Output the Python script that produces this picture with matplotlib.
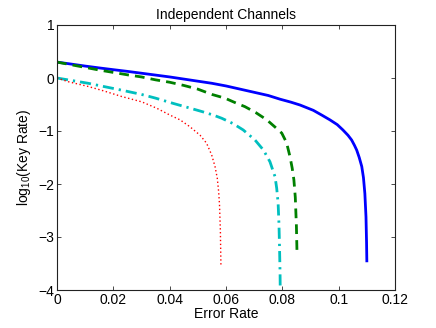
import matplotlib
matplotlib.use("Agg")
import matplotlib.pyplot as plt

plt.rcParams['font.family'] = ['Liberation Sans', 'DejaVu Sans']
plt.rcParams['mathtext.fontset'] = 'custom'
plt.rcParams['mathtext.rm'] = 'Liberation Sans'

# Data (error rate, log10 key rate)
blue_x = [0.0, 0.005, 0.01, 0.015, 0.02, 0.025, 0.03, 0.035, 0.04, 0.045, 0.05, 0.055, 0.06, 0.065, 0.07,
          0.075, 0.0792, 0.083, 0.0863, 0.091, 0.094, 0.0969, 0.0995, 0.1015, 0.1033, 0.1046, 0.1056, 0.1064,
          0.1073, 0.1082, 0.1088, 0.1093, 0.1097, 0.1099, 0.1100]
blue_y = [0.30, 0.263, 0.225, 0.19, 0.157, 0.125, 0.09, 0.055, 0.02, -0.02, -0.06, -0.10, -0.15, -0.21, -0.27,
          -0.33, -0.40, -0.455, -0.51, -0.61, -0.70, -0.79, -0.88, -0.98, -1.08, -1.17, -1.27, -1.36,
          -1.50, -1.67, -1.88, -2.18, -2.62, -3.10, -3.45]

green_x = [0.0, 0.005, 0.01, 0.015, 0.02, 0.025, 0.03, 0.035, 0.04, 0.045, 0.05, 0.055, 0.0596, 0.0639,
           0.0667, 0.0705, 0.0745, 0.0775, 0.0798, 0.0815, 0.0827, 0.0835, 0.0841, 0.0846, 0.0850, 0.0852]
green_y = [0.30, 0.25, 0.20, 0.15, 0.105, 0.06, 0.02, -0.035, -0.08, -0.14, -0.21, -0.31, -0.38, -0.48,
           -0.54, -0.65, -0.79, -0.93, -1.04, -1.22, -1.48, -1.70, -1.92, -2.25, -2.80, -3.28]

cyan_x = [0.0, 0.005, 0.0111, 0.017, 0.023, 0.03, 0.035, 0.0413, 0.046, 0.0519, 0.0555, 0.0585, 0.0625,
          0.0661, 0.0703, 0.0733, 0.0756, 0.0774, 0.0780, 0.0785, 0.0788, 0.0790, 0.0792, 0.0793]
cyan_y = [0.0, -0.045, -0.10, -0.165, -0.23, -0.31, -0.38, -0.48, -0.55, -0.64, -0.70, -0.76, -0.86,
          -0.98, -1.17, -1.36, -1.58, -1.86, -2.08, -2.36, -2.75, -3.18, -3.70, -4.30]

red_x = [0.0, 0.004, 0.0111, 0.017, 0.023, 0.0301, 0.0354, 0.0401, 0.0437, 0.0472, 0.0508, 0.0531, 0.0549,
         0.0561, 0.0569, 0.0574, 0.0577, 0.0580, 0.0581, 0.0582]
red_y = [0.0, -0.07, -0.16, -0.25, -0.35, -0.45, -0.57, -0.70, -0.79, -0.92, -1.08, -1.23, -1.45,
         -1.67, -1.89, -2.15, -2.40, -2.87, -3.20, -3.53]

x_ticks = [0, 0.02, 0.04, 0.06, 0.08, 0.1, 0.12]
x_labels = ['0', '0.02', '0.04', '0.06', '0.08', '0.1', '0.12']
y_ticks = [-4, -3, -2, -1, 0, 1]

fig = plt.figure(figsize=(4.36, 3.28), dpi=100)
ax = fig.add_axes([57/436, 1-290/328, (395-57)/436, (290-25)/328])

ax.plot(blue_x, blue_y, color=(0, 0, 1), lw=2.0, ls='-')
ax.plot(green_x, green_y, color=(0, 0.5, 0), lw=2.0, ls=(0, (3.5, 2.2)))
ax.plot(cyan_x, cyan_y, color=(0, 0.75, 0.75), lw=2.0, ls=(0, (4, 1.8, 0.8, 1.8)))
ax.plot(red_x, red_y, color=(1, 0, 0), lw=1.0, ls=(0, (1, 1.8)))

ax.set_xlim(0, 0.12)
ax.set_ylim(-4, 1)
ax.set_xticks(x_ticks)
ax.set_xticklabels(x_labels)
ax.set_yticks(y_ticks)
ax.tick_params(direction='in', top=True, right=True, labelsize=10, length=3, width=0.5, pad=2, colors='black')
for s in ax.spines.values():
    s.set_linewidth(0.8)
    s.set_color('#222222')

ax.set_xlabel('Error Rate', fontsize=10, labelpad=0)
ax.set_ylabel('log$_{10}$(Key Rate)', fontsize=10, labelpad=4)
ax.set_title('Independent Channels', fontsize=10, pad=4)

fig.savefig('out.png', dpi=100)
